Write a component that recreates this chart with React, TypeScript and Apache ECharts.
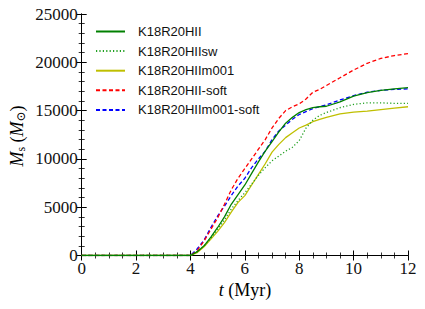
import React, { useEffect, useRef } from "react";
import * as echarts from "echarts";

const times = [0, 4, 4.25, 4.5, 4.75, 5, 5.25, 5.5, 5.75, 6, 6.25, 6.5, 6.75, 7, 7.25, 7.5, 7.75, 8, 8.25, 8.5, 8.75, 9, 9.5, 10, 10.5, 11, 11.5, 12];

const seriesNames = ["K18R20HII", "K18R20HIIsw", "K18R20HIIm001", "K18R20HII-soft", "K18R20HIIm001-soft"];

const k18 = [0, 0, 400, 1000, 1900, 2900, 4000, 5300, 6300, 7300, 8500, 9700, 10800, 11800, 12800, 13700, 14300, 14800, 15100, 15300, 15400, 15450, 15900, 16500, 16850, 17100, 17250, 17370];
const k18sw = [0, 0, 400, 1000, 1800, 2700, 3700, 4800, 5700, 6500, 7400, 8300, 9100, 9800, 10300, 10800, 11200, 11900, 13200, 14000, 14500, 14800, 15300, 15650, 15800, 15800, 15750, 15750];
const k18m001 = [0, 0, 300, 900, 1700, 2500, 3400, 4500, 5500, 6200, 7300, 8400, 9500, 10700, 11500, 12200, 12700, 13200, 13500, 13850, 14100, 14300, 14650, 14850, 14950, 15100, 15250, 15400];
const k18soft = [0, 0, 500, 1500, 2700, 3900, 5300, 6800, 8000, 9000, 10000, 11000, 12000, 13200, 14200, 15000, 15400, 15700, 16200, 16900, 17200, 17600, 18400, 19200, 19900, 20400, 20700, 20900];
const k18m001soft = [0, 0, 700, 1600, 2900, 4100, 5100, 6200, 7200, 8000, 9100, 10000, 10800, 12000, 12900, 13500, 14100, 14600, 14900, 15200, 15400, 15600, 16100, 16550, 16900, 17100, 17200, 17250];

const values = [k18, k18sw, k18m001, k18soft, k18m001soft];
const colors = ["#008000", "#22a022", "#bfbf00", "#ff0000", "#0000ff"];
const dashes: any[] = ["solid", [1.2, 2.2], "solid", [4, 2.5], [4, 2.5]];

const serif = "'Liberation Serif', 'DejaVu Serif', serif";

export default function App() {
  const ref = useRef<HTMLDivElement>(null);
  useEffect(() => {
    const chart = echarts.init(ref.current!, null, { renderer: "svg" });
    const axisCommon = {
      axisLine: { show: true, lineStyle: { color: "#000", width: 1 } },
      axisTick: { show: true, inside: true, length: 5, lineStyle: { color: "#000", width: 1 } },
      minorTick: { show: true, length: 3, lineStyle: { color: "#000", width: 0.8 } },
      splitLine: { show: false },
      minorSplitLine: { show: false },
    };
    const rich = {
      it: { fontFamily: serif, fontStyle: "italic", fontSize: 18, color: "#111" },
      n: { fontFamily: serif, fontSize: 18, color: "#111" },
      sub: { fontFamily: serif, fontSize: 12, color: "#111", padding: [8, 0, 0, 0] },
    };
    const fmt = (v: number) => String(v);
    chart.setOption({
      animation: false,
      grid: { left: 81.7, right: 17, top: 14, bottom: 53.5 },
      xAxis: [
        {
          type: "value", min: 0, max: 12, interval: 2,
          ...axisCommon,
          minorTick: { ...axisCommon.minorTick, splitNumber: 4 },
          axisLabel: { color: "#111", fontFamily: serif, fontSize: 17, margin: 4, formatter: fmt },
        },
        {
          type: "value", min: 0, max: 12, interval: 2, position: "top",
          ...axisCommon,
          minorTick: { ...axisCommon.minorTick, splitNumber: 4 },
          axisLabel: { show: false },
        },
      ],
      yAxis: [
        {
          type: "value", min: 0, max: 25000, interval: 5000,
          ...axisCommon,
          minorTick: { ...axisCommon.minorTick, splitNumber: 5 },
          axisLabel: { color: "#111", fontFamily: serif, fontSize: 17, margin: 4, formatter: fmt },
        },
        {
          type: "value", min: 0, max: 25000, interval: 5000, position: "right",
          ...axisCommon,
          minorTick: { ...axisCommon.minorTick, splitNumber: 5 },
          axisLabel: { show: false },
        },
      ],
      legend: {
        orient: "vertical", left: 95, top: 25, padding: 0, itemWidth: 29, itemHeight: 14, itemGap: 6.6,
        itemStyle: { color: "transparent", borderColor: "transparent", borderWidth: 0, opacity: 0 },
        textStyle: { fontFamily: "'Liberation Sans', Arial, sans-serif", fontSize: 13, color: "#111", padding: [0, 0, 0, 8] },
        data: seriesNames,
      },
      series: seriesNames.map((name, i) => ({
        name,
        type: "line",
        showSymbol: false,
        symbol: "none",
        smooth: false,
        data: times.map((t, j) => [t, values[i][j]]),
        lineStyle: { color: colors[i], width: 1.3, type: dashes[i] },
        itemStyle: { color: colors[i] },
        z: 10 - i,
      })),
      graphic: [
        {
          type: "text", x: 245, y: 290,
          style: {
            text: "{it|t}{n| (Myr)}", rich, align: "center", verticalAlign: "middle",
          },
        },
        {
          type: "text", x: 17, y: 136, rotation: Math.PI / 2,
          style: {
            text: "{it|M}{sub|s}{n| (}{it|M}{sub|⊙}{n|)}", rich, align: "center", verticalAlign: "middle",
          },
        },
      ],
    });
    return () => chart.dispose();
  }, []);
  return <div ref={ref} style={{ width: 425, height: 309, position: "absolute", left: 0, top: 0 }} />;
}
